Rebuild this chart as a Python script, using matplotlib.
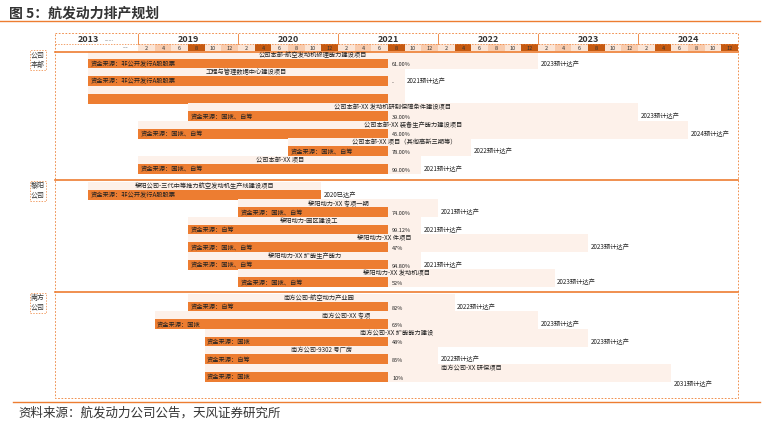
import matplotlib
matplotlib.use("Agg")
import matplotlib.pyplot as plt
from matplotlib.patches import Rectangle

plt.rcParams["font.family"] = "Noto Sans CJK SC"

# time in months since Jan 2019; 2013 mapped to -6
sections = ["公司\n本部", "黎阳\n公司", "南方\n公司"]
section_of = [0]*7 + [1]*6 + [2]*5
names = ["公司本部-航空发动机修理能力建设项目", "工程与管理数据中心建设项目", "",
         "公司本部-XX 发动机研制保障条件建设项目", "公司本部-XX 装备生产能力建设项目",
         "公司本部-XX 项目（其他高新三期等）", "公司本部-XX 项目",
         "黎阳公司-三代中等推力航空发动机生产线建设项目", "黎阳动力-XX 专项一期",
         "黎阳动力-园区建设工", "黎阳动力-XX 件项目", "黎阳动力-XX 扩能生产能力",
         "黎阳动力-XX 发动机项目",
         "南方公司-航空动力产业园", "南方公司-XX 专项", "南方公司-XX 扩能能力建设",
         "南方公司-9302 号厂房", "南方公司-XX 研保项目"]
funding = ["非公开发行A股股票", "非公开发行A股股票", None, "国拨、自筹", "国拨、自筹",
           "国拨、自筹", "国拨、自筹", "非公开发行A股股票", "国拨、自筹", "自筹",
           "国拨、自筹", "国拨、自筹", "国拨、自筹", "自筹", "国拨", "国拨", "自筹", "国拨"]
starts = [-6, -6, -6, 6, 0, 18, 0, -6, 12, 6, 6, 6, 12, 6, 2, 8, 8, 8]
ends = [30, 30, 30, 30, 30, 30, 30, 22, 30, 30, 30, 30, 30, 30, 30, 30, 30, 30]
plan_end = [48, 32, 32, 60, 66, 40, 34, 22, 36, 34, 54, 34, 50, 38, 48, 54, 36, 64]
progress = ["61.00%", "-", None, "39.00%", "45.00%", "78.00%", "99.00%", None, "74.00%",
            "99.12%", "47%", "94.80%", "52%", "82%", "63%", "48%", "85%", "10%"]
status = ["2023预计达产", "2021预计达产", None, "2023预计达产", "2024预计达产", "2022预计达产",
          "2021预计达产", "2020已达产", "2021预计达产", "2021预计达产", "2023预计达产",
          "2021预计达产", "2023预计达产", "2022预计达产", "2023预计达产", "2023预计达产",
          "2022预计达产", "2031预计达产"]
years = ["2013", "2019", "2020", "2021", "2022", "2023", "2024"]
months = ["2", "4", "6", "8", "10", "12"]

# label centre positions (months)
label_x = [21, 13, 0, 30.5, 33, 32, 17, 8, 24, 20.5, 29.5, 20, 31, 21.7, 25, 31, 22, 40]

ORANGE = "#ED7D31"
DARK = "#C55A11"
PEACH = "#FBE5D6"
LIGHT = "#FDF1EA"

fig = plt.figure(figsize=(7.66, 4.23), dpi=100)
ax = fig.add_axes([0, 0, 1, 1])
ppm = 100/12
ax.set_xlim(-138/ppm, (766-138)/ppm)
ax.set_ylim(423, 0)
ax.axis("off")
X0, X1 = -83/ppm, 72

fig.text(0.012, 0.985, "图 5：航发动力排产规划", fontsize=10, fontweight="bold", va="top", color="#333333")
ax.plot([-138/ppm, (760-138)/ppm], [21, 21], color=ORANGE, lw=1)
ax.plot([-138/ppm+1.5, (760-138)/ppm], [402, 402], color=ORANGE, lw=1)
ax.text(-120/ppm, 413, "资料来源：航发动力公司公告，天风证券研究所", fontsize=9, va="center", color="#333333")

ax.add_patch(Rectangle((X0, 33), X1-X0, 365, fill=False, ls=(0, (2, 2)), lw=0.6, ec=ORANGE))
ax.plot([X0, X1], [44, 44], color=ORANGE, lw=0.5, ls=(0, (2, 2)))
ax.plot([X0, X1], [52, 52], color=ORANGE, lw=1.2)
for i, y in enumerate(years):
    xc = -6 if i == 0 else (i-1)*12 + 6
    ax.text(xc, 39.5, y, fontsize=6.5, fontweight="bold", ha="center", va="center", color="#333333")
    if i >= 1:
        ax.plot([(i-1)*12, (i-1)*12], [34, 44], color=ORANGE, lw=0.6)
ax.text(-4, 39.5, "......", fontsize=4, ha="left", va="center", color="#555555")
ax.text(-1.5, 47.5, "---", fontsize=4, ha="center", va="center", color="#555555")
dark_cells = {(0, 3), (1, 1), (1, 5), (2, 3), (3, 1), (3, 5), (4, 3), (5, 1), (5, 5)}
for yi in range(6):
    for mi, m in enumerate(months):
        t = yi*12 + mi*2
        col = DARK if (yi, mi) in dark_cells else (PEACH if mi % 2 == 0 else "#F8CBAD")
        ax.add_patch(Rectangle((t, 44.5), 2, 7, color=col, lw=0))
        ax.text(t+1, 48, m, fontsize=4, ha="center", va="center", color="#333333")

sec_y = [57, 188, 300]
for y in (180, 292):
    ax.plot([X0, X1], [y, y], color=ORANGE, lw=1.2)
for s, y in zip(sections, sec_y):
    ax.text(-100/ppm, y+3, s, fontsize=5, ha="center", va="center", color="#333333",
            bbox=dict(boxstyle="square,pad=0.2", fc="white", ec=ORANGE, ls=(0, (2, 2)), lw=0.5))

base = [64, 195, 307]
counters = [0, 0, 0]
for i in range(len(names)):
    s = section_of[i]
    y = base[s] + counters[s]*17.5
    counters[s] += 1
    ax.add_patch(Rectangle((starts[i], y-13), plan_end[i]-starts[i], 18, color=LIGHT, lw=0))
    ax.add_patch(Rectangle((starts[i], y-5), ends[i]-starts[i], 10, color=ORANGE, lw=0))
    if names[i]:
        ax.text(label_x[i], y-9, names[i], fontsize=4.5, ha="center", va="center", color="#222222")
    if funding[i]:
        ax.text(starts[i]+0.3, y, "资金来源：" + funding[i], fontsize=4.5, va="center", color="#222222")
    if progress[i]:
        ax.text(ends[i]+0.5, y+1, progress[i], fontsize=4, va="center", color="#222222")
    if status[i]:
        ax.text(plan_end[i]+0.3, y + (7 if i == 17 else 0), status[i], fontsize=4.5, va="center", color="#222222")

fig.savefig("out.png", dpi=100)
